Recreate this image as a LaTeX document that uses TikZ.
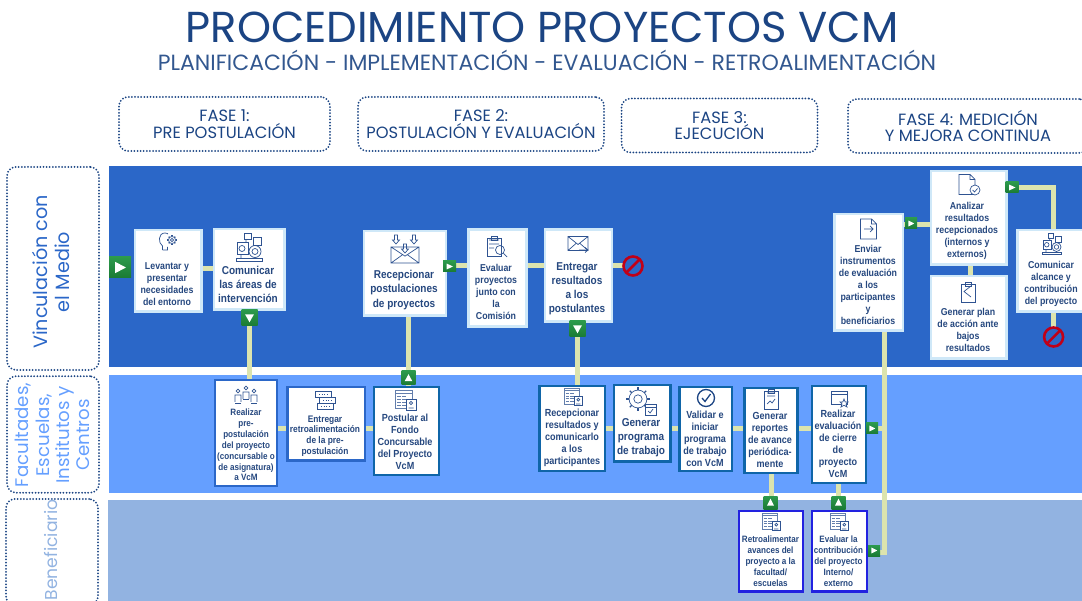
\documentclass[tikz,border=0pt]{standalone}
\usepackage{fontspec}
\setmainfont[FakeStretch=0.88]{Liberation Sans}
\newfontfamily\geo{Poppins}
\usetikzlibrary{calc}
\definecolor{bandA}{HTML}{2B67C8}
\definecolor{bandB}{HTML}{659FFF}
\definecolor{bandC}{HTML}{92B3E1}
\definecolor{navy}{HTML}{1B4483}
\definecolor{boxtxt}{HTML}{26487F}
\definecolor{edgeA}{HTML}{CFE8F8}
\definecolor{edgeB}{HTML}{0F65A8}
\definecolor{edgeC}{HTML}{2222E0}
\definecolor{link}{HTML}{DCE4AE}
\definecolor{markhi}{HTML}{2C9A4C}
\definecolor{marklo}{HTML}{1A7A34}
\definecolor{stopred}{HTML}{C00018}
\definecolor{ico}{HTML}{2F5391}
\pgfdeclarelayer{under}
\pgfsetlayers{under,main}
\tikzset{
  x=1pt,y=-1pt,
  bx/.style={rectangle,fill=white,inner sep=0pt,outer sep=0pt,line width=2.5pt},
  edgea/.style={bx,draw=edgeA},
  edgeg/.style={bx,draw=bandA},
  edgeb/.style={bx,draw=edgeB},
  edgec/.style={bx,draw=edgeC},
  boxlabel/.style={inner sep=0pt,align=center,text=boxtxt},
  conn/.style={draw=link,line width=5pt},
  dotbox/.style={rectangle,rounded corners=9pt,draw=navy,line width=2pt,dash pattern=on 0pt off 3.1pt,line cap=round,inner sep=0pt,outer sep=0pt},
  greenmark/.style={rectangle,top color=markhi,bottom color=marklo,inner sep=0pt,outer sep=0pt},
  stopsign/.style={circle,draw=stopred,line width=2.6pt,inner sep=0pt,outer sep=0pt,minimum size=19pt},
  icon/.style={draw=ico,line width=.7pt,fill=none},
}
\newcommand\bxn[2]{\def\bxname{#1}\def\bxstyle{#2}\bxrest}
\newcommand\bxrest[4]{\pgfmathsetmacro\bxcx{(#1+#3)/2}\pgfmathsetmacro\bxcy{(#2+#4)/2}%
  \pgfmathsetmacro\bxw{#3-#1-2.5}\pgfmathsetmacro\bxh{#4-#2-2.5}%
  \node[\bxstyle,minimum width=\bxw pt,minimum height=\bxh pt] (\bxname) at (\bxcx,\bxcy) {};\bxtext}
\newcommand\bxtext[5]{\node[boxlabel,font=\bfseries\fontsize{#3}{#4}\selectfont] (\bxname-t) at (#1,#2) {#5};}
\newcommand\mk[6]{\node[greenmark,minimum width=#4pt,minimum height=#5pt] (#1) at (#2,#3) {};
  \fill[white,shift={(#2,#3)},rotate=#6] (-.22*#4,-.27*#5) -- (.27*#4,0) -- (-.22*#4,.27*#5) -- cycle;}
\newcommand\stopn[3]{\node[stopsign] (#1) at (#2,#3) {};\draw[stopred,line width=2.6pt] (#1.south west) -- (#1.north east);}
\newcommand\icdoc[1]{\begin{scope}[shift={#1}]\draw[icon] (-8,-10) -- (3,-10) -- (8,-5) -- (8,10) -- (-8,10) -- cycle (3,-10) -- (3,-5) -- (8,-5);\end{scope}}
\newcommand\icenv[4]{\begin{scope}[shift={(#1,#2)},xscale=#3,yscale=#4]\draw[icon] (-10,-7) rectangle (10,7) (-10,-7) -- (0,1) -- (10,-7) (-10,7) -- (-2,0) (10,7) -- (2,0);\end{scope}}
\newcommand\icdown[2]{\begin{scope}[shift={(#1,#2)}]\draw[icon] (-1.5,-5) -- (1.5,-5) -- (1.5,0) -- (3.5,0) -- (0,4) -- (-3.5,0) -- (-1.5,0) -- cycle;\end{scope}}
\newcommand\icclip[2]{\begin{scope}[shift={(#1,#2)}]\draw[icon] (-7,-8) rectangle (7,10) (-3,-10) rectangle (3,-6);\end{scope}}
\newcommand\icpanel[3]{\begin{scope}[shift={(#1,#2)},scale=#3]
  \draw[icon,draw=ico!75] (-10,-10) rectangle (7,8) (-10,-7) -- (7,-7);
  \foreach \q in {-4,-1,2,5}{\draw[icon,draw=ico!75] (-8,\q) -- (-4,\q) (-3,\q) -- (1,\q);}
  \draw[icon,fill=white] (1,-1) rectangle (11,10);\draw[icon] (6,3) circle (1.6) (3.5,8) -- (8.5,8);
\end{scope}}
\newcommand\icgear[3]{\begin{scope}[shift={(#1,#2)},scale=#3]
  \foreach \q in {0,45,...,315}{\draw[icon,line width=1.4pt] (\q:8.5) -- (\q:11);}
  \draw[icon] (0,0) circle (8.5) (0,0) circle (4);\end{scope}}
\newcommand\icdevices[3]{\begin{scope}[shift={(#1,#2)},scale=#3]
  \draw[icon] (-13,11) rectangle (13,14) (-5,-14) rectangle (2,-8) (4,-10) rectangle (12,-2) (-12,-5) rectangle (-1,7);
  \draw[icon] (6,4) circle (6) (6,4) circle (3) (-7,1) circle (3) (-3,-8) -- (-3,-5) (-8,7) -- (-8,11) (6,10) -- (6,11);\end{scope}}
\newcommand\icperson[2]{\begin{scope}[shift={(#1,#2)}]\draw[icon] (0,-3) circle (1.9) (-3,8) -- (-3,1) -- (3,1) -- (3,8);\end{scope}}
\begin{document}
\begin{tikzpicture}
\useasboundingbox (0,0) rectangle (1082,601);
\begin{pgfonlayer}{under}
\fill[bandA] (108.5,166) rectangle (1082,367);
\fill[bandB] (108.5,375) rectangle (1082,493);
\fill[bandC] (107.5,500) rectangle (1082,601);
\end{pgfonlayer}
\node[inner sep=0pt,text=navy,font=\geo\fontsize{43.3}{46}\selectfont] (title) at (542,27) {PROCEDIMIENTO PROYECTOS VCM};
\node[inner sep=0pt,text=navy!90!white,font=\geo\fontsize{22}{24}\selectfont] (subtitle) at (547,60.5) {PLANIFICACIÓN - IMPLEMENTACIÓN - EVALUACIÓN - RETROALIMENTACIÓN};
\tikzset{phase/.style={dotbox,align=center,text=navy,font=\geo\fontsize{16.3}{16.5}\selectfont}}
\node[phase,minimum width=211pt,minimum height=54pt] (f1) at (224.5,124) {FASE 1:\\PRE POSTULACIÓN};
\node[phase,minimum width=246pt,minimum height=54pt] (f2) at (481,124) {FASE 2:\\POSTULACIÓN Y EVALUACIÓN};
\node[phase,minimum width=196pt,minimum height=54pt] (f3) at (719.5,125.5) {FASE 3:\\EJECUCIÓN};
\node[phase,minimum width=240pt,minimum height=54pt] (f4) at (968,126) {FASE 4: MEDICIÓN\\Y MEJORA CONTINUA};
\node[dotbox,minimum width=92pt,minimum height=203pt] (l1) at (53,268.5) {};
\node[dotbox,minimum width=92pt,minimum height=116.5pt] (l2) at (53,434.5) {};
\node[dotbox,minimum width=92pt,minimum height=106pt] (l3) at (52,552) {};
\node[rotate=90,inner sep=0pt,align=center,text=bandA,font=\geo\fontsize{19.2}{22}\selectfont] (l1t) at (51,272) {Vinculación con\\el Medio};
\node[rotate=90,inner sep=0pt,align=center,text=bandB,font=\geo\fontsize{18.2}{20.3}\selectfont] (l2t) at (52.5,435) {Facultades,\\Escuelas,\\Institutos y\\Centros};
\node[rotate=90,inner sep=0pt,text=bandC,anchor=west,font=\geo\fontsize{17.2}{20}\selectfont] (l3t) at (51,600.5) {Beneficiario};
\bxn{lev}{edgea}{133.6}{228.7}{202.5}{313}{167}{284}{10}{12}{Levantar y\\presentar\\necesidades\\del entorno}
\bxn{com}{edgea}{212.8}{228}{285.5}{311}{248}{284}{11.4}{14}{Comunicar\\las áreas de\\intervención}
\bxn{rec}{edgea}{362.6}{229.7}{447}{317}{404}{290}{11.4}{14.3}{Recepcionar\\postulaciones\\de proyectos}
\bxn{eva}{edgea}{467}{228.5}{527.5}{328}{496}{292}{10}{12}{Evaluar\\proyectos\\junto con\\la\\Comisión}
\bxn{ent}{edgea}{543.5}{228.5}{613}{323}{577}{289}{11.4}{14}{Entregar\\resultados\\a los\\postulantes}
\bxn{env}{edgea}{833}{213}{904}{332}{868}{285}{10}{12}{Enviar\\instrumentos\\de evaluación\\a los\\participantes\\y\\beneficiarios}
\bxn{ana}{edgea}{929.6}{170}{1007.5}{266}{967}{230.5}{10}{12}{Analizar\\resultados\\recepcionados\\(internos y\\externos)}
\bxn{pla}{edgea}{929.6}{275}{1007.5}{360}{968}{330}{10}{12}{Generar plan\\de acción ante\\bajos\\resultados}
\bxn{alc}{edgea}{1016}{229}{1090}{313}{1051}{284}{10}{12}{Comunicar\\alcance y\\contribución\\del proyecto}
\bxn{pre}{edgeg}{213.5}{379}{278}{487}{246}{445}{9.2}{10.9}{Realizar\\pre-\\postulación\\del proyecto\\(concursable o\\de asignatura)\\a VcM}
\bxn{ret}{edgeg}{286}{386}{366}{462}{325}{436}{9.5}{10.8}{Entregar\\retroalimentación\\de la pre-\\postulación}
\bxn{pos}{edgeb}{372.6}{386}{440}{476}{405}{442}{10.3}{12}{Postular al\\Fondo\\Concursable\\del Proyecto\\VcM}
\bxn{res}{edgeb}{538}{385}{606}{472}{572}{438}{10.3}{12}{Recepcionar\\resultados y\\comunicarlo\\a los\\participantes}
\bxn{gpr}{edgeb}{612.6}{384}{671.5}{463}{641}{438}{11.4}{14.2}{Generar\\programa\\de trabajo}
\bxn{val}{edgeb}{678}{386}{733}{472}{705}{439}{10.3}{12}{Validar e\\iniciar\\programa\\de trabajo\\con VcM}
\bxn{rep}{edgeb}{743}{387}{798.5}{474}{770}{440}{10.3}{12}{Generar\\reportes\\de avance\\periódica-\\mente}
\bxn{cie}{edgeb}{810.6}{385}{867}{484}{838}{444}{10.3}{12}{Realizar\\evaluación\\de cierre\\de\\proyecto\\VcM}
\bxn{fac}{edgec}{737.7}{509.5}{804}{592.5}{770.5}{561}{9.2}{10.9}{Retroalimentar\\avances del\\proyecto a la\\facultad/\\escuelas}
\bxn{con}{edgec}{810.6}{509.5}{868}{592.5}{838.5}{561}{9.2}{10.9}{Evaluar la\\contribución\\del proyecto\\Interno/\\externo}
\stopn{st1}{633}{266}
\stopn{st2}{1053.6}{337}
\coordinate (ya) at (0,269);
\coordinate (yb) at (0,266);
\coordinate (yc) at (0,428.5);
\coordinate (yd) at (0,224.5);
\coordinate (elbow) at (1053.5,188);
\coordinate (trunk) at (884.5,552);
\coordinate (xa) at (249,0);
\coordinate (xb) at (408,0);
\coordinate (xc) at (577.5,0);
\coordinate (xd) at (771,0);
\coordinate (xe) at (838.5,0);
\coordinate (xf) at (970,0);
\mk{m0}{120}{267.5}{22}{21}{0}
\mk{m1}{249.5}{318}{16}{16}{-90}
\mk{m2}{449.5}{266.5}{13}{11}{0}
\mk{m3}{408.5}{378}{14}{14}{90}
\mk{m4}{577.5}{329}{16}{16}{-90}
\mk{m5}{911}{223.5}{12}{11}{0}
\mk{m6}{1012}{187.5}{13}{11}{0}
\mk{m7}{872}{428.5}{12}{11}{0}
\mk{m8}{874}{550.5}{12}{11}{0}
\mk{m9}{770.5}{502.5}{14}{13}{90}
\mk{m10}{838.5}{502.5}{14}{13}{90}
\begin{pgfonlayer}{under}
\draw[conn] (lev.east |- ya) -- (com.west |- ya);
\draw[conn] (xa |- com.south) -- (xa |- pre.north);
\draw[conn] (rec.east |- yb) -- (eva.west |- yb);
\draw[conn] (eva.east |- yb) -- (ent.west |- yb);
\draw[conn] (ent.east |- yb) -- (st1.west |- yb);
\draw[conn] (xb |- rec.south) -- (xb |- pos.north);
\draw[conn] (xc |- ent.south) -- (xc |- res.north);
\draw[conn] (pre.east |- yc) -- (ret.west |- yc);
\draw[conn] (ret.east |- yc) -- (pos.west |- yc);
\draw[conn] (res.east |- yc) -- (gpr.west |- yc);
\draw[conn] (gpr.east |- yc) -- (val.west |- yc);
\draw[conn] (val.east |- yc) -- (rep.west |- yc);
\draw[conn] (rep.east |- yc) -- (cie.west |- yc);
\draw[conn] (cie.east |- yc) -- (trunk |- yc);
\draw[conn] (xd |- rep.south) -- (xd |- fac.north);
\draw[conn] (xe |- cie.south) -- (xe |- con.north);
\draw[conn] (con.east |- trunk) -- (trunk) -- (trunk |- env.south);
\draw[conn] (env.east |- yd) -- (ana.west |- yd);
\draw[conn] (ana.east |- elbow) -- (elbow) -- (elbow |- alc.north);
\draw[conn] (xf |- ana.south) -- (xf |- pla.north);
\draw[conn] (elbow |- alc.south) -- (elbow |- st2.north);
\end{pgfonlayer}
\begin{scope}[shift={(165,241)}]\draw[icon] (-2.5,9) -- (-2.5,5) .. controls (-7,2) and (-7,-8) .. (0,-8) .. controls (2,-8) and (3,-7) .. (3,-7) (-2.5,9) -- (2.5,9) -- (2.5,6);\end{scope}
\icgear{172}{240}{.42}
\icdevices{249}{247.5}{1}
\icdevices{1052}{244}{.75}
\icenv{405}{255}{1.4}{1.15}
\icdown{396}{240}\icdown{414}{240}\icdown{405}{249}
\icclip{494}{246}
\draw[icon] (500,250) circle (4.5) (503.5,253.5) -- (507,257) (489,240) -- (499,240) (489,244) -- (499,244) (489,248) -- (494,248);
\icenv{578}{243.5}{1}{1}
\draw[icon] (579,250) -- (588,250) (585,247.5) -- (588,250) -- (585,252.5);
\icdoc{(868.5,229)}
\draw[icon] (864,229) -- (873,229) (870,226) -- (873,229) -- (870,232);
\icdoc{(967,184.5)}
\draw[icon,fill=white] (975,190) circle (5); \draw[icon] (972.5,190) -- (974.5,192) -- (977.5,188.5);
\icclip{968}{292}
\draw[icon] (971,286) -- (964,291.5) -- (971,297);
\icperson{238}{394}\icperson{246}{391}\icperson{254}{394}
\draw[icon] (235,403) -- (241,403) (251,403) -- (257,403) (243,399) -- (249,399);
\foreach \q/\r in {394/-2,400/2,406/0}{\draw[icon] ({317+\r},{\q-3}) rectangle ({333+\r},{\q+3});\draw[icon,dotted] ({321+\r},\q) -- ({330+\r},\q);}
\icpanel{405}{400}{1}
\icpanel{573}{397}{.88}
\icpanel{771}{522}{.88}
\icpanel{839}{522}{.88}
\icgear{638}{399}{1.05}
\draw[icon,fill=white] (645,404) rectangle (656,415) (645,407) -- (656,407);
\draw[icon] (648,411) -- (650,413) -- (653,409);
\node[circle,draw=navy,line width=1.3pt,minimum size=17pt,inner sep=0pt] (chk) at (706,398) {};
\draw[navy,line width=1.3pt] (702,398) -- (705,401.5) -- (710.5,394);
\icclip{771}{399}
\draw[icon] (767,404) -- (770,401) -- (772,403) -- (775,399) (767,393) -- (775,393) (767,396) -- (775,396);
\draw[icon] (831,391) rectangle (847,404) (831,394) -- (847,394);
\draw[icon,fill=white] (844,399) -- (845.2,402) -- (848,402) -- (846,404) -- (847,407) -- (844,405.3) -- (841,407) -- (842,404) -- (840,402) -- (842.8,402) -- cycle;
\end{tikzpicture}
\end{document}
